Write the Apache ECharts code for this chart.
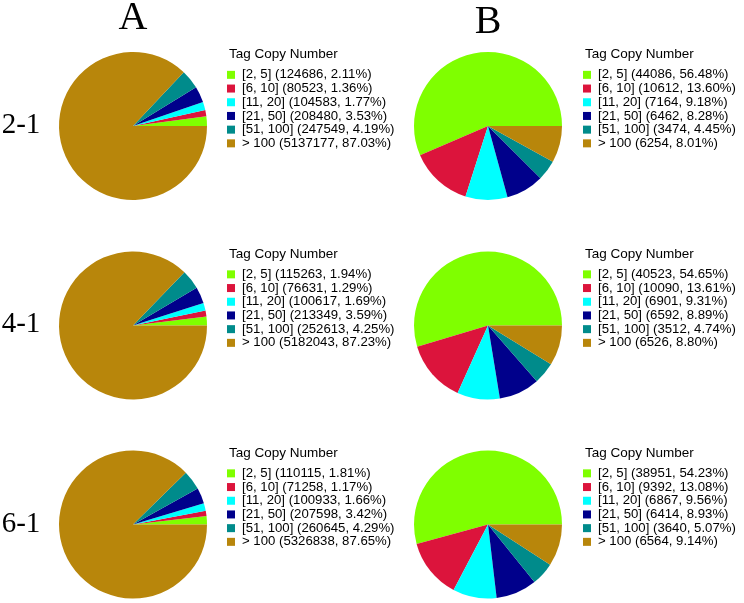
<!DOCTYPE html>
<html>
<head>
<meta charset="utf-8">
<script src="https://cdn.jsdelivr.net/npm/echarts@6/dist/echarts.min.js"></script>
<style>
html,body{margin:0;padding:0;background:#fff;}
#chart{width:744px;height:603px;}
</style>
</head>
<body>
<div id="chart"></div>
<script>
var categories = ['[2, 5]', '[6, 10]', '[11, 20]', '[21, 50]', '[51, 100]', '> 100'];
var colors = ['#7FFF00', '#DC143C', '#00FFFF', '#00008B', '#008B8B', '#B8860B'];
var columnLabels = ['A', 'B'];
var rowLabels = ['2-1', '4-1', '6-1'];
var legendTitle = 'Tag Copy Number';

var A_2_1 = [124686, 80523, 104583, 208480, 247549, 5137177];
var A_2_1_pct = ['2.11%', '1.36%', '1.77%', '3.53%', '4.19%', '87.03%'];
var B_2_1 = [44086, 10612, 7164, 6462, 3474, 6254];
var B_2_1_pct = ['56.48%', '13.60%', '9.18%', '8.28%', '4.45%', '8.01%'];
var A_4_1 = [115263, 76631, 100617, 213349, 252613, 5182043];
var A_4_1_pct = ['1.94%', '1.29%', '1.69%', '3.59%', '4.25%', '87.23%'];
var B_4_1 = [40523, 10090, 6901, 6592, 3512, 6526];
var B_4_1_pct = ['54.65%', '13.61%', '9.31%', '8.89%', '4.74%', '8.80%'];
var A_6_1 = [110115, 71258, 100933, 207598, 260645, 5326838];
var A_6_1_pct = ['1.81%', '1.17%', '1.66%', '3.42%', '4.29%', '87.65%'];
var B_6_1 = [38951, 9392, 6867, 6414, 3640, 6564];
var B_6_1_pct = ['54.23%', '13.08%', '9.56%', '8.93%', '5.07%', '9.14%'];

var panels = [
  {vals: A_2_1, pct: A_2_1_pct, col: 0, row: 0},
  {vals: B_2_1, pct: B_2_1_pct, col: 1, row: 0},
  {vals: A_4_1, pct: A_4_1_pct, col: 0, row: 1},
  {vals: B_4_1, pct: B_4_1_pct, col: 1, row: 1},
  {vals: A_6_1, pct: A_6_1_pct, col: 0, row: 2},
  {vals: B_6_1, pct: B_6_1_pct, col: 1, row: 2}
];

// layout
var pieCX = [133, 488];
var pieCY = [126, 325.5, 524.5];
var pieR = 74;
var legendLeft = [227, 583];
var legendTitleY = [54.5, 254.5, 453.5];
var legendTop = [68, 267.5, 466.5];
var colLabelPos = [[133, 18], [488, 22]];
var rowLabelPos = [[21, 125], [21, 324.5], [21, 524]];

var series = [];
var legends = [];
var graphics = [];

panels.forEach(function (p, i) {
  var data = categories.map(function (c, k) {
    return {name: c, value: p.vals[k], itemStyle: {color: colors[k]}};
  });
  series.push({
    type: 'pie',
    name: 'pie' + i,
    center: [pieCX[p.col], pieCY[p.row]],
    radius: [0, pieR],
    startAngle: 0,
    clockwise: false,
    avoidLabelOverlap: false,
    label: {show: false},
    labelLine: {show: false},
    emphasis: {disabled: true},
    itemStyle: {borderWidth: 0},
    data: data
  });
  (function (vals, pct) {
    legends.push({
      orient: 'vertical',
      left: legendLeft[p.col],
      top: legendTop[p.row],
      itemWidth: 8,
      itemHeight: 8,
      itemGap: 0,
      icon: 'rect',
      selectedMode: false,
      padding: 0,
      textStyle: {
        fontFamily: 'Liberation Sans, Arial, sans-serif',
        fontSize: 13.2,
        color: '#000',
        lineHeight: 13.7,
        padding: [0, 0, 0, 2]
      },
      data: categories.slice(),
      formatter: function (name) {
        var k = categories.indexOf(name);
        return name + ' (' + vals[k] + ', ' + pct[k] + ')';
      }
    });
  })(p.vals, p.pct);
  graphics.push({
    type: 'text',
    x: legendLeft[p.col] + 2,
    y: legendTitleY[p.row],
    style: {
      text: legendTitle,
      fill: '#000',
      font: '13.5px "Liberation Sans", Arial, sans-serif',
      textAlign: 'left',
      textVerticalAlign: 'middle'
    }
  });
});

columnLabels.forEach(function (t, i) {
  graphics.push({
    type: 'text',
    x: colLabelPos[i][0],
    y: colLabelPos[i][1],
    style: {
      text: t,
      fill: '#000',
      font: '40px "Liberation Serif", "Times New Roman", serif',
      textAlign: 'center',
      textVerticalAlign: 'middle'
    }
  });
});
rowLabels.forEach(function (t, i) {
  graphics.push({
    type: 'text',
    x: rowLabelPos[i][0],
    y: rowLabelPos[i][1],
    style: {
      text: t,
      fill: '#000',
      font: '29px "Liberation Serif", "Times New Roman", serif',
      textAlign: 'center',
      textVerticalAlign: 'middle'
    }
  });
});

var chart = echarts.init(document.getElementById('chart'), null, {renderer: 'canvas'});
chart.setOption({
  animation: false,
  backgroundColor: '#fff',
  legend: legends,
  series: series,
  graphic: graphics
});
</script>
</body>
</html>
